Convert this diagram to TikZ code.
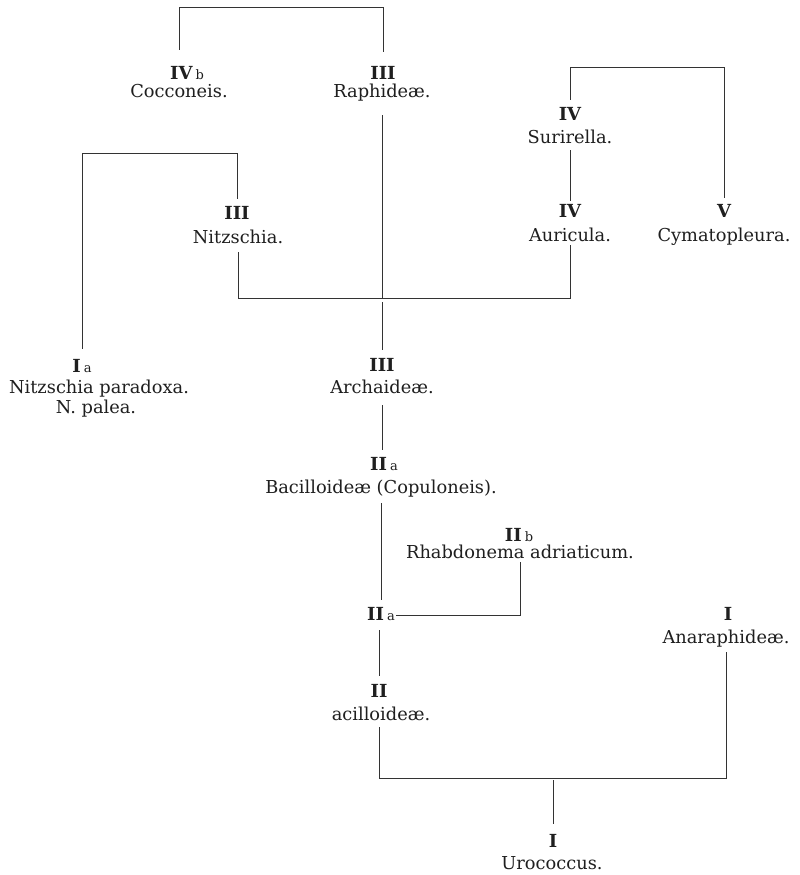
\documentclass[tikz,border=0pt]{standalone}
\usepackage{fontspec}
\setmainfont{DejaVu Serif}
\newcommand{\namefnt}{\fontsize{17.8}{20}\selectfont}
\newcommand{\numfnt}{\bfseries\fontsize{18}{20}\selectfont}
\newcommand{\lt}[1]{\,{\mdseries\fontsize{13}{14}\selectfont #1}}
\tikzset{
  num/.style={font=\numfnt, inner sep=0pt, anchor=base, text depth=0pt, text=black!88},
  nm/.style={font=\namefnt, inner sep=0pt, anchor=base, text depth=0pt, text=black!88},
  link/.style={line width=0.75pt, draw=black!80}
}
\begin{document}
\begin{tikzpicture}[x=1pt,y=-1pt]
\path[use as bounding box, fill=white] (0,0) rectangle (800,875);
% helper heights
\coordinate (topA) at (0,7);
\coordinate (topB) at (0,67);
\coordinate (topC) at (0,153);
\coordinate (midH) at (0,298);
\coordinate (botH) at (0,778);
% labels
\node[num] (cocN) at (187,80) {IV\lt{b}};
\node[nm]  (coc)  at (179,97) {Cocconeis.};
\node[num] (raphN) at (383,80) {III};
\node[nm]  (raph)  at (382,97) {Raphideæ.};
\node[num] (surN) at (570,120) {IV};
\node[nm]  (sur)  at (570,143) {Surirella.};
\node[num] (aurN) at (570,217) {IV};
\node[nm]  (aur)  at (570,241) {Auricula.};
\node[num] (cymN) at (724,217) {V};
\node[nm]  (cym)  at (724,241) {Cymatopleura.};
\node[num] (nitzN) at (237,219) {III};
\node[nm]  (nitz)  at (238,243) {Nitzschia.};
\node[num] (iaN) at (82,372) {I\lt{a}};
\node[nm]  (ia)  at (99,393) {Nitzschia paradoxa.};
\node[nm]  (pal) at (96,413) {N.\ palea.};
\node[num] (archN) at (382,371) {III};
\node[nm]  (arch)  at (382,393) {Archaideæ.};
\node[num] (bacN) at (384,470) {II\lt{a}};
\node[nm]  (bac)  at (381,493) {Bacilloideæ (Copuloneis).};
\node[num] (rhabN) at (519,541) {II\lt{b}};
\node[nm]  (rhab)  at (520,558) {Rhabdonema adriaticum.};
\node[num] (iia) at (381,620) {II\lt{a}};
\node[num] (acilN) at (379,697) {II};
\node[nm]  (acil)  at (381,720) {acilloideæ.};
\node[num] (anarN) at (728,620) {I};
\node[nm]  (anar)  at (726,643) {Anaraphideæ.};
\node[num] (urocN) at (553,847) {I};
\node[nm]  (uroc)  at (552,869) {Urococcus.};
% connectors
\draw[link, shorten <=17pt, shorten >=15pt] (coc.north |- cocN.north) |- (topA -| raphN.north) -- (raphN.north);
\draw[link, shorten <=18pt] (raph.south) -- (raph.south |- midH);
\draw[link, shorten <=7pt, shorten >=6pt] (surN.north) |- (topB -| cymN.north) -- (cymN.north);
\draw[link, shorten <=7pt, shorten >=3pt] (sur.south) -- (aurN.north);
\draw[link, shorten <=10pt, shorten >=7pt] (iaN.north) |- (topC -| nitzN.north) -- (nitzN.north);
\draw[link, shorten <=9pt, shorten >=4pt] (nitz.south) |- (midH -| aur.south) -- (aur.south);
\draw[link, shorten <=4pt, shorten >=8pt] (archN.north |- midH) -- (archN.north);
\draw[link, shorten <=12pt, shorten >=7pt] (arch.south) -- (arch.south |- bacN.north);
\draw[link, shorten <=10pt, shorten >=7pt] (bac.south) -- (bac.south |- iia.north);
\draw[link, shorten <=4pt, shorten >=1pt] (rhab.south) |- ([yshift=-2pt]iia.east);
\draw[link, shorten <=10pt, shorten >=8pt] (acilN.north |- iia.south) -- (acilN.north);
\draw[link, shorten <=7pt, shorten >=9pt] (acilN.south |- acil.south) |- (botH -| anar.south) -- (anar.south);
\draw[link, shorten <=2pt, shorten >=10pt] (botH -| urocN.north) -- (urocN.north);
\end{tikzpicture}
\end{document}
